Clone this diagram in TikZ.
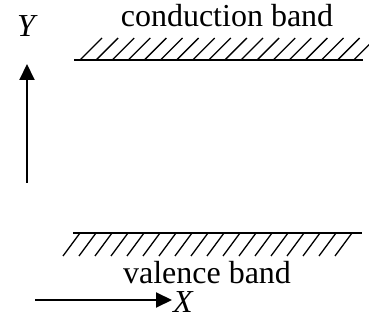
\documentclass[tikz,border=0pt]{standalone}
\usepackage{fontspec}
\setmainfont{Liberation Serif}
\usetikzlibrary{arrows.meta}
\tikzset{
  bandline/.style={line width=1.8pt},
  hatch/.style={line width=1.3pt},
  axis/.style={line width=2pt,-{Triangle[length=16pt,width=15pt]}},
  lbl/.style={font=\fontsize{32}{38}\selectfont,inner sep=0pt,anchor=base}
}
\begin{document}
\begin{tikzpicture}[x=1pt,y=-1pt]
  \useasboundingbox (0,0) rectangle (369,320);
  % conduction band
  \coordinate (cbL) at (74,60);
  \coordinate (cbR) at (363,60);
  \draw[bandline] (cbL) -- (cbR);
  \foreach \i in {0,...,17} {
    \draw[hatch] (80+16.1*\i,60) -- (102+16.1*\i,38);
  }
  \node[lbl] (cond) at (227,27) {conduction band};
  % valence band
  \coordinate (vbL) at (73,233);
  \coordinate (vbR) at (362,233);
  \draw[bandline] (vbL) -- (vbR);
  \foreach \i in {0,...,17} {
    \draw[hatch] (80+16*\i,233) -- (63+16*\i,256);
  }
  \node[lbl] (val) at (207,283) {valence band};
  % axes
  \coordinate (yfrom) at (27,183);
  \coordinate (yto) at (27,64);
  \draw[axis] (yfrom) -- (yto);
  \node[lbl] (ylab) at (26,37) {\itshape Y};
  \coordinate (xfrom) at (35,300);
  \coordinate (xto) at (172,300);
  \draw[axis] (xfrom) -- (xto);
  \node[lbl,anchor=base west] (xlab) at (173,312) {\itshape X};
\end{tikzpicture}
\end{document}
